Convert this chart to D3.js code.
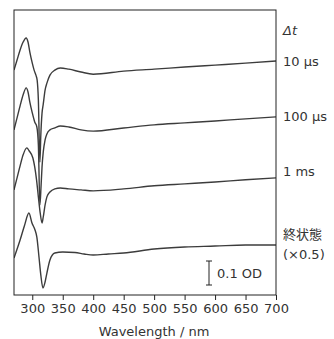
<!DOCTYPE html>
<html lang="ja">
<head>
<meta charset="utf-8">
<script src="https://cdn.jsdelivr.net/npm/d3@7"></script>
<style>
  body { margin: 0; background: #fff; }
  text { font-family: "DejaVu Sans", sans-serif; fill: #333; }
  .axis line { stroke: #222; }
</style>
</head>
<body>
<script>
// [wavelength nm, dOD relative to the trace's own baseline]
var trace10us = [[270,.004],[275,.046],[280,.088],[285,.121],[290,.138],[293,.121],[296,.079],[300,.033],[303,.004],[306,-.017],[308,-.038],[310,-.121],[312.5,-.379],[314,-.267],[316,-.175],[318,-.138],[321,-.079],[324,-.050],[329,-.017],[337,.004],[346,.013],[360,.008],[380,-.004],[400,-.013],[450,0],[500,.008],[550,.017],[600,.025],[650,.033],[700,.042]];
var trace100us = [[270,-.008],[275,.042],[280,.092],[285,.138],[290,.167],[293,.150],[296,.108],[300,.063],[304,.025],[307.5,.004],[310,-.071],[312.5,-.321],[314.5,-.238],[316,-.163],[318,-.100],[321,-.050],[324,-.025],[329,-.008],[337,0],[346,.008],[360,.004],[380,-.008],[400,-.013],[450,0],[500,.013],[550,.021],[600,.029],[650,.038],[700,.046]];
var trace1ms = [[270,-.004],[275,.046],[280,.096],[285,.142],[291,.171],[295,.158],[301,.129],[304,.092],[307,.038],[310,-.033],[313,-.100],[316,-.142],[318,-.117],[321,-.067],[324,-.033],[329,-.013],[337,0],[346,.004],[360,0],[380,-.004],[400,-.008],[450,0],[500,.013],[550,.021],[600,.029],[650,.038],[700,.046]];
// final state, raw values (drawn x0.5)
var traceFinal = [[270,-.042],[280,.108],[287,.225],[294.5,.333],[299.5,.250],[304.5,.192],[307.5,.133],[311,-.033],[314,-.183],[317.5,-.292],[321,-.242],[324,-.167],[329,-.058],[337,0],[350,.008],[370,.004],[385,-.008],[400,-.017],[425,-.008],[450,0],[500,.033],[550,.050],[600,.058],[650,.067],[700,.067]];

var seriesNames = ["10 μs", "100 μs", "1 ms", "終状態"];
var offsets = [0.933, 0.696, 0.442, 0.175];
var factors = [1, 1, 1, 0.5];
var xTicks = [300, 350, 400, 450, 500, 550, 600, 650, 700];
var scaleBarOD = 0.1;

var w = 334, h = 339;
var mLeft = 14, mRight = 276, mTop = 10, mBottom = 295;

var svg = d3.select("body").append("svg")
    .attr("width", w)
    .attr("height", h);

var xScale = d3.scaleLinear().domain([270, 700]).range([mLeft, mRight]);
// 0.1 OD = 24 px
var yScale = d3.scaleLinear().domain([0, (mBottom - mTop) / 240]).range([mBottom, mTop]);

svg.append("clipPath").attr("id", "plot")
  .append("rect")
    .attr("x", mLeft).attr("y", mTop)
    .attr("width", mRight - mLeft).attr("height", mBottom - mTop);

var traces = [trace10us, trace100us, trace1ms, traceFinal];

traces.forEach(function(t, i) {
  var line = d3.line()
      .curve(d3.curveMonotoneX)
      .x(function(d) { return xScale(d[0]); })
      .y(function(d) { return yScale(offsets[i] + d[1] * factors[i]); });
  svg.append("path")
    .datum(t)
    .attr("clip-path", "url(#plot)")
    .attr("fill", "none")
    .attr("stroke", "#3c3c3c")
    .attr("stroke-width", 1.4)
    .attr("d", line);
});

// frame
svg.append("rect")
    .attr("x", mLeft).attr("y", mTop)
    .attr("width", mRight - mLeft).attr("height", mBottom - mTop)
    .attr("fill", "none")
    .attr("stroke", "#222");

var xAxis = d3.axisBottom(xScale).tickValues(xTicks).tickSize(5).tickSizeOuter(0).tickPadding(4);
svg.append("g")
    .attr("class", "axis")
    .attr("transform", "translate(0," + mBottom + ")")
    .call(xAxis)
    .call(function(g) { g.select(".domain").remove(); })
    .selectAll("text")
    .style("font-size", "13px")
    .attr("fill", "#333");

svg.append("text")
    .attr("x", 154)
    .attr("y", 336)
    .attr("text-anchor", "middle")
    .style("font-size", "13px")
    .text("Wavelength / nm");

// series labels
svg.append("text")
    .attr("x", 283).attr("y", 35)
    .style("font-size", "13px")
    .style("font-style", "italic")
    .text("Δt");

var labelY = [66, 121, 176, 239];
seriesNames.forEach(function(name, i) {
  svg.append("text")
    .attr("x", 283).attr("y", labelY[i])
    .style("font-size", "13px")
    .style("font-family", i === 3 ? "'Noto Sans CJK JP', sans-serif" : null)
    .text(name);
});
svg.append("text")
    .attr("x", 283).attr("y", 259)
    .style("font-size", "13px")
    .text("(×0.5)");

// scale bar
var barX = 209, barBottom = 285;
var barTop = barBottom - (yScale(0) - yScale(scaleBarOD));
svg.append("path")
    .attr("d", "M" + (barX - 3) + "," + barTop + "H" + (barX + 3) +
               "M" + barX + "," + barTop + "V" + barBottom +
               "M" + (barX - 3) + "," + barBottom + "H" + (barX + 3))
    .attr("stroke", "#222")
    .attr("fill", "none");
svg.append("text")
    .attr("x", 217).attr("y", 278)
    .style("font-size", "13px")
    .text("0.1 OD");
</script>
</body>
</html>
